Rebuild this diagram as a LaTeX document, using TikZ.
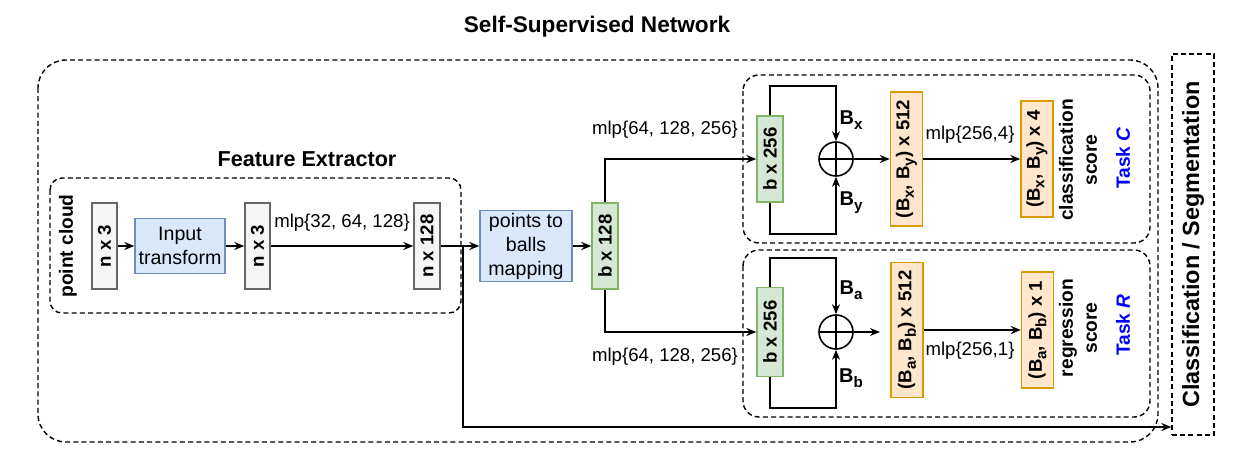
\documentclass[tikz,border=0pt]{standalone}
\usepackage{fontspec}
\setmainfont{Liberation Sans}
\usetikzlibrary{arrows.meta,calc}
\definecolor{grayfill}{HTML}{F5F5F5}
\definecolor{graydraw}{HTML}{666666}
\definecolor{bluefill}{HTML}{DAE8FC}
\definecolor{bluedraw}{HTML}{6C8EBF}
\definecolor{greenfill}{HTML}{D5E8D4}
\definecolor{greendraw}{HTML}{82B366}
\definecolor{orangefill}{HTML}{FFE6CC}
\definecolor{orangedraw}{HTML}{D79B00}
\definecolor{taskblue}{HTML}{0000FF}
\newcommand\mysub[1]{\raisebox{-0.45ex}{\fontsize{7.6}{9}\selectfont #1}}
\begin{document}
\begin{tikzpicture}[x=0.5pt,y=-0.5pt,
  basefont/.style={font=\fontsize{9.3}{11.5}\selectfont},
  box/.style={draw, line width=0.7pt, inner sep=0pt, font=\fontsize{9.3}{11}\selectfont\bfseries},
  graybox/.style={box, fill=grayfill, draw=graydraw, minimum width=12.5pt, minimum height=43pt},
  greenbox/.style={box, fill=greenfill, draw=greendraw, minimum width=13pt, minimum height=43pt},
  bluebox/.style={box, fill=bluefill, draw=bluedraw, font=\fontsize{9.8}{12}\selectfont, align=center},
  orangebox/.style={box, fill=orangefill, draw=orangedraw, minimum width=16pt},
  lbl/.style={basefont, inner sep=0pt},
  blbl/.style={font=\fontsize{9.6}{11.5}\selectfont\bfseries, inner sep=0pt},
  conn/.style={line width=0.8pt},
  arr/.style={conn, -{Stealth[length=5pt,width=4pt]}},
  frame/.style={line width=0.7pt, dash pattern=on 2.5pt off 1.6pt},
  oplus/.style={circle, draw, line width=0.8pt, minimum size=17pt, inner sep=0pt,
    path picture={\draw[line width=0.8pt] (path picture bounding box.north) -- (path picture bounding box.south)
      (path picture bounding box.west) -- (path picture bounding box.east);}}
]
\useasboundingbox (0,0) rectangle (1256,454);

% frames
\draw[frame, rounded corners=14pt] (38,60) rectangle (1158,442);
\draw[frame, rounded corners=6pt] (50,178) rectangle (461,313);
\draw[frame, rounded corners=8pt] (743,75) rectangle (1150,243);
\draw[frame, rounded corners=8pt] (743,250) rectangle (1150,417);

% titles
\node[font=\fontsize{11.3}{13}\selectfont\bfseries, inner sep=0pt] (title) at (597,27) {Self-Supervised Network};
\node[font=\fontsize{10.8}{13}\selectfont\bfseries, inner sep=0pt] (fetitle) at (307,159) {Feature Extractor};
\node[draw, frame, minimum width=21pt, minimum height=190.5pt, inner sep=0pt,
  font=\fontsize{11.7}{13}\selectfont\bfseries] (cls) at (1193,244.5) {\rotatebox{90}{Classification / Segmentation}};

% feature extractor
\node[blbl] (pc) at (68,246) {\rotatebox{90}{point cloud}};
\node[graybox] (nx3a) at (104.5,246) {\rotatebox{90}{n x 3}};
\node[bluebox, minimum width=45pt, minimum height=27.5pt] (inp) at (180,246) {Input\\transform};
\node[graybox] (nx3b) at (257.5,246) {\rotatebox{90}{n x 3}};
\node[graybox, minimum width=13pt] (nx128) at (427,246) {\rotatebox{90}{n x 128}};
\node[lbl] (mlp1) at (342,223) {mlp\{32, 64, 128\}};

\draw[arr] (nx3a) -- (inp);
\draw[arr] (inp) -- (nx3b);
\draw[arr] (nx3b) -- (nx128);

% mapping
\node[bluebox, minimum width=46pt, minimum height=35.5pt] (ptb) at (526,246) {points to\\balls\\mapping};
\node[greenbox] (bx128) at (605,246) {\rotatebox{90}{b x 128}};
\coordinate (j) at (463,246);
\coordinate (jb) at (463,427);
\draw[arr] (nx128) -- (ptb);
\draw[arr] (ptb) -- (bx128);
\draw[arr] (j) -- (jb) -- (jb -| cls.west);

% Task C
\node[greenbox] (bx256c) at (770,159) {\rotatebox{90}{b x 256}};
\node[oplus] (circC) at (836,159) {};
\node[orangebox, minimum height=67pt] (oc512) at (906.5,159) {\rotatebox{90}{(B\mysub{x}, B\mysub{y}) x 512}};
\node[orangebox, minimum height=58pt] (oc4) at (1037,159) {\rotatebox{90}{(B\mysub{x}, B\mysub{y}) x 4}};
\node[blbl, align=center, font=\fontsize{9.6}{12}\selectfont\bfseries] (csc) at (1080,160) {\rotatebox{90}{\begin{tabular}{@{}c@{}}classification\\score\end{tabular}}};
\node[blbl, text=taskblue] (taskc) at (1123,158) {\rotatebox{90}{Task \textit{C}}};
\node[lbl] (mlpc) at (665,130) {mlp\{64, 128, 256\}};
\node[lbl] (mlp4) at (970,135) {mlp\{256,4\}};
\node[blbl, font=\fontsize{10}{12}\selectfont\bfseries] (bxl) at (851,120) {B\mysub{x}};
\node[blbl, font=\fontsize{10}{12}\selectfont\bfseries] (byl) at (851,203) {B\mysub{y}};
\coordinate (tc1) at (836,86);
\coordinate (tc2) at (836,234);

\draw[arr] (bx128.north) |- (bx256c.west);
\draw[arr] (bx256c.north) |- (tc1) -- (circC.north);
\draw[arr] (bx256c.south) |- (tc2) -- (circC.south);
\draw[arr] (circC) -- (oc512);
\draw[arr] (oc512) -- (oc4);

% Task R
\node[greenbox, minimum height=44.5pt] (bx256r) at (770,332) {\rotatebox{90}{b x 256}};
\node[oplus] (circR) at (836,332) {};
\node[orangebox, minimum height=67.5pt] (or512) at (907,330) {\rotatebox{90}{(B\mysub{a}, B\mysub{b}) x 512}};
\node[orangebox, minimum height=58pt] (or1) at (1037.5,330) {\rotatebox{90}{(B\mysub{a}, B\mysub{b}) x 1}};
\node[blbl, align=center, font=\fontsize{9.6}{12}\selectfont\bfseries] (rsc) at (1080,328) {\rotatebox{90}{\begin{tabular}{@{}c@{}}regression\\score\end{tabular}}};
\node[blbl, text=taskblue] (taskr) at (1123,325) {\rotatebox{90}{Task \textit{R}}};
\node[lbl] (mlpr) at (665,357) {mlp\{64, 128, 256\}};
\node[lbl] (mlp1b) at (970,351) {mlp\{256,1\}};
\node[blbl, font=\fontsize{10}{12}\selectfont\bfseries] (bal) at (851,290) {B\mysub{a}};
\node[blbl, font=\fontsize{10}{12}\selectfont\bfseries] (bbl) at (851,378) {B\mysub{b}};
\coordinate (tr1) at (836,258);
\coordinate (tr2) at (836,408);
\coordinate (rend) at (880,332);

\draw[arr] (bx128.south) |- (bx256r.west);
\draw[arr] (bx256r.north) |- (tr1) -- (circR.north);
\draw[arr] (bx256r.south) |- (tr2) -- (circR.south);
\draw[arr] (circR) -- (rend);
\draw[arr] (or512.east |- or1) -- (or1);

\end{tikzpicture}
\end{document}
